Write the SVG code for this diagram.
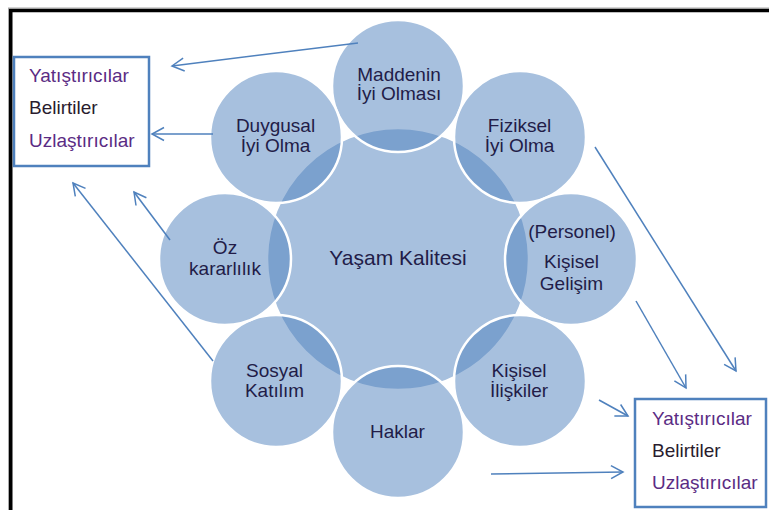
<svg xmlns="http://www.w3.org/2000/svg" width="769" height="510" viewBox="0 0 769 510">
<defs>
<style>
.circ{fill:#4F81BD;fill-opacity:0.5;stroke:#FFFFFF;stroke-width:2.5}
.t{font-family:"Liberation Sans",Arial,sans-serif;font-size:19px;fill:#221C48;text-anchor:middle}
.big{font-size:21px}
.bt{font-family:"Liberation Sans",Arial,sans-serif;font-size:19px;fill:#5B2C84}
.bd{fill:#2A1C2E}
.box{fill:#FFFFFF;stroke:#4F81BD;stroke-width:2.5}
.conn line{stroke:#4F81BD;stroke-width:1.5;marker-end:url(#arr)}
</style>
<marker id="arr" markerUnits="userSpaceOnUse" markerWidth="16" markerHeight="16" refX="13" refY="8" orient="auto">
<path d="M1,1.5 L13,8 L1,14.5" fill="none" stroke="#4F81BD" stroke-width="1.5"/>
</marker>
</defs>
<rect x="0" y="0" width="769" height="510" fill="#FFFFFF"/>
<rect x="8.5" y="8" width="800" height="600" fill="none" stroke="#AAAAAA" stroke-width="1"/>
<rect x="10.75" y="10.5" width="800" height="600" fill="none" stroke="#000000" stroke-width="3.5"/>

<g id="center">
<circle class="circ" cx="398" cy="259" r="131"/>
</g>
<g id="n-maddenin"><circle class="circ" cx="398" cy="86" r="66"/></g>
<g id="n-fiziksel"><circle class="circ" cx="520" cy="137" r="66"/></g>
<g id="n-personel"><circle class="circ" cx="571" cy="259" r="66"/></g>
<g id="n-iliskiler"><circle class="circ" cx="520" cy="381" r="66"/></g>
<g id="n-haklar"><circle class="circ" cx="398" cy="432" r="66"/></g>
<g id="n-sosyal"><circle class="circ" cx="276" cy="381" r="66"/></g>
<g id="n-oz"><circle class="circ" cx="225" cy="259" r="66"/></g>
<g id="n-duygusal"><circle class="circ" cx="276" cy="137" r="66"/></g>

<g id="labels">
<text class="t big" x="398" y="265">Yaşam Kalitesi</text>
<text class="t" x="399" y="81">Maddenin</text>
<text class="t" x="399" y="100">İyi Olması</text>
<text class="t" x="519.5" y="132">Fiziksel</text>
<text class="t" x="519.5" y="152">İyi Olma</text>
<text class="t" x="572" y="238">(Personel)</text>
<text class="t" x="571.5" y="268">Kişisel</text>
<text class="t" x="571.5" y="290">Gelişim</text>
<text class="t" x="519" y="377">Kişisel</text>
<text class="t" x="519" y="397">İlişkiler</text>
<text class="t" x="397.5" y="438">Haklar</text>
<text class="t" x="274.5" y="377">Sosyal</text>
<text class="t" x="274.5" y="397">Katılım</text>
<text class="t" x="225" y="254">Öz</text>
<text class="t" x="225" y="275">kararlılık</text>
<text class="t" x="275.5" y="132">Duygusal</text>
<text class="t" x="275.5" y="152">İyi Olma</text>
</g>

<g id="box-left">
<rect class="box" x="14" y="57" width="135" height="109"/>
<text class="bt" x="29" y="82">Yatıştırıcılar</text>
<text class="bt bd" x="29" y="114">Belirtiler</text>
<text class="bt" x="29" y="147">Uzlaştırıcılar</text>
</g>
<g id="box-right">
<rect class="box" x="635" y="399" width="131" height="108"/>
<text class="bt" x="652" y="425">Yatıştırıcılar</text>
<text class="bt bd" x="652" y="457">Belirtiler</text>
<text class="bt" x="652" y="489">Uzlaştırıcılar</text>
</g>

<g id="connectors" class="conn">
<line x1="358" y1="43" x2="172" y2="66"/>
<line x1="213" y1="134" x2="152" y2="134"/>
<line x1="170" y1="240" x2="134" y2="192"/>
<line x1="213" y1="361" x2="73" y2="183"/>
<line x1="595" y1="147" x2="736" y2="371"/>
<line x1="636" y1="301" x2="686" y2="388"/>
<line x1="599" y1="400" x2="628" y2="416"/>
<line x1="491" y1="474" x2="623" y2="472"/>
</g>
</svg>
